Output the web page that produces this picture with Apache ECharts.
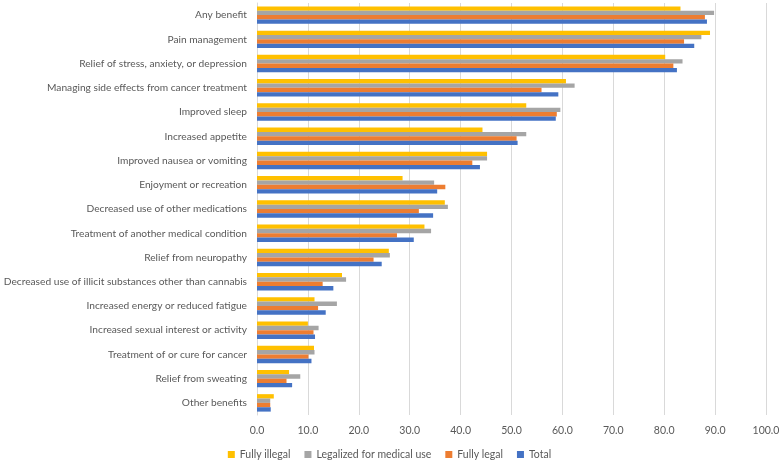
<!DOCTYPE html>
<html>
<head>
<meta charset="utf-8">
<script src="https://cdn.jsdelivr.net/npm/echarts@6/dist/echarts.min.js"></script>
<style>html,body{margin:0;padding:0;background:#fff;}#c{width:779px;height:460px;}</style>
</head>
<body>
<div id="c"></div>
<script>
const categories = [
  "Any benefit",
  "Pain management",
  "Relief of stress, anxiety, or depression",
  "Managing side effects from cancer treatment",
  "Improved sleep",
  "Increased appetite",
  "Improved nausea or vomiting",
  "Enjoyment or recreation",
  "Decreased use of other medications",
  "Treatment of another medical condition",
  "Relief from neuropathy",
  "Decreased use of illicit substances other than cannabis",
  "Increased energy or reduced fatigue",
  "Increased sexual interest or activity",
  "Treatment of or cure for cancer",
  "Relief from sweating",
  "Other benefits"
];
const seriesNames = ["Fully illegal", "Legalized for medical use", "Fully legal", "Total"];
const fullyIllegal = [83.2, 89.0, 80.2, 60.7, 52.9, 44.3, 45.2, 28.6, 36.9, 32.9, 25.9, 16.7, 11.3, 10.0, 11.2, 6.3, 3.3];
const legalizedMedical = [89.8, 87.3, 83.6, 62.4, 59.6, 52.9, 45.2, 34.8, 37.5, 34.2, 26.1, 17.5, 15.7, 12.1, 11.3, 8.5, 2.6];
const fullyLegal = [88.0, 83.9, 81.8, 55.9, 58.9, 51.0, 42.3, 37.0, 31.8, 27.5, 22.9, 12.9, 12.0, 11.1, 10.1, 5.8, 2.6];
const total = [88.4, 85.9, 82.5, 59.2, 58.7, 51.2, 43.8, 35.4, 34.6, 30.8, 24.5, 15.0, 13.5, 11.4, 10.7, 6.9, 2.7];
const xTicks = [0, 10, 20, 30, 40, 50, 60, 70, 80, 90, 100];

const colors = ["#FFC000", "#A5A5A5", "#ED7D31", "#4472C4"];
const values = [fullyIllegal, legalizedMedical, fullyLegal, total];
const FONT = "Lato, 'Liberation Sans', sans-serif";

const chart = echarts.init(document.getElementById('c'), null, {renderer: 'canvas'});
chart.setOption({
  animation: false,
  textStyle: {fontFamily: FONT},
  grid: {left: 257, right: 13, top: 3, bottom: 45, containLabel: false, outerBoundsMode: 'none'},
  legend: {
    bottom: -5,
    left: 'center',
    itemWidth: 7,
    itemHeight: 7,
    itemGap: 14,
    icon: 'rect',
    textStyle: {color: '#595959', fontSize: 10.5, fontFamily: FONT},
    data: seriesNames
  },
  xAxis: {
    type: 'value',
    min: xTicks[0],
    max: xTicks[xTicks.length - 1],
    interval: 10,
    axisLabel: {color: '#595959', fontSize: 10.5, margin: 10, formatter: v => v.toFixed(1)},
    splitLine: {lineStyle: {color: '#D9D9D9', width: 1}},
    axisLine: {show: false},
    axisTick: {show: false}
  },
  yAxis: {
    type: 'category',
    inverse: true,
    data: categories,
    axisLabel: {color: '#595959', fontSize: 10.2, margin: 10},
    axisLine: {show: true, lineStyle: {color: '#D9D9D9'}},
    axisTick: {show: false}
  },
  series: seriesNames.map((n, i) => ({
    name: n,
    type: 'bar',
    data: values[i],
    itemStyle: {color: colors[i]},
    barGap: '0%',
    barCategoryGap: '28%'
  }))
});
</script>
</body>
</html>
